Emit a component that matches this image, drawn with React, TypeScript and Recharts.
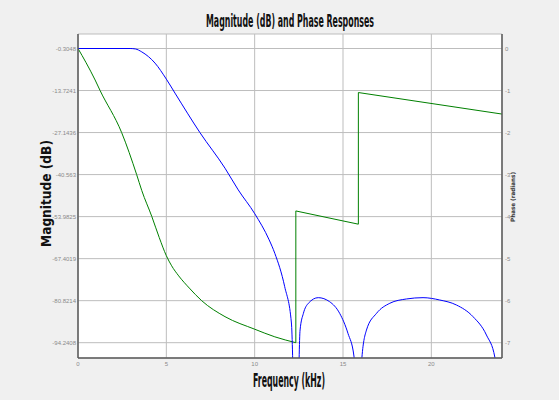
import { LineChart, Line, XAxis, YAxis, CartesianGrid } from 'recharts';

// Magnitude response (blue), kHz vs dB
const magFreq = [0, 2.95, 3.25, 3.61, 4.36, 5.0, 5.49, 6.9, 8.32, 9.07, 10.01, 10.82, 11.14, 11.7, 12.08, 12.35, 12.57, 12.76, 13.04, 13.6, 14.24, 14.81, 15.28, 15.62, 15.87, 16.07, 16.33, 16.9, 17.65, 18.59, 19.53, 20.47, 21.42, 22.36, 23.12, 23.6, 23.7];
const magDb = [-0.3048, -0.3048, -0.45, -1.39, -4.97, -10.08, -14.55, -27.14, -38.52, -45.45, -53.1, -61.4, -65.7, -76.35, -87.95, -140, -90.18, -84.85, -81.65, -79.86, -81.14, -84.85, -91.24, -98.5, -140, -99, -90.18, -84.85, -81.65, -80.28, -79.86, -80.6, -82.2, -85.93, -91.8, -99, -140];

// Phase response (green), kHz vs radians: smooth passband part, then the wrapped jumps
const phaseFreq = [0, 0.46, 0.97, 1.25, 2.47, 3.32, 3.61, 4.18, 4.6, 5.0, 5.3, 5.7, 6.3, 7.0, 8.32, 10.01, 11.14, 12.33];
const phaseRad = [0, -0.34, -0.75, -1.0, -2.0, -3.0, -3.38, -4.0, -4.5, -4.93, -5.17, -5.41, -5.7, -6.0, -6.38, -6.68, -6.86, -7.0];
const jumpFreq = [12.33, 12.33, 15.87, 15.87, 24];
const jumpRad = [-7.0, -3.865, -4.18, -1.048, -1.56];

const freqTicks = [0, 5, 10, 15, 20];
const magTickLabels = ['-0.3048', '-13.7241', '-27.1436', '-40.563', '-53.9825', '-67.4019', '-80.8214', '-94.2408'];
const phaseTicks = [0, -1, -2, -3, -4, -5, -6, -7];

const magData = magFreq.map((f, i) => ({ f, db: magDb[i] }));
const phaseData = phaseFreq.map((f, i) => ({ f, rad: phaseRad[i] }));
const jumpData = jumpFreq.map((f, i) => ({ f, rad: jumpRad[i] }));
const magTicks = magTickLabels.map(Number);

const tickStyle = { fill: '#8a8a8a', fontSize: 6, fontFamily: 'Liberation Sans, Arial, sans-serif' };
const frame = { stroke: '#5a5a5a', strokeWidth: 1.5 };

export default function App() {
    return (
        <div style={{ position: 'absolute', left: 0, top: 0, width: 559, height: 400, background: '#f0f0f0' }}>
            <LineChart width={559} height={400} margin={{ top: 34, right: 0, bottom: 22, left: 8 }}>
                <CartesianGrid yAxisId="mag" fill="#ffffff" stroke="#bdbdbd" strokeWidth={1} />
                <XAxis
                    dataKey="f"
                    type="number"
                    domain={[0, 24]}
                    ticks={freqTicks}
                    interval={0}
                    height={20}
                    tickSize={0}
                    tickMargin={4}
                    tick={tickStyle}
                    axisLine={frame}
                    allowDataOverflow
                />
                <XAxis
                    xAxisId="top"
                    orientation="top"
                    type="number"
                    domain={[0, 24]}
                    height={0}
                    tick={false}
                    tickLine={false}
                    axisLine={frame}
                />
                <YAxis
                    yAxisId="mag"
                    type="number"
                    domain={[-99.126, 4.325]}
                    ticks={magTicks}
                    interval={0}
                    width={70}
                    tickSize={0}
                    tickMargin={2}
                    tick={tickStyle}
                    tickFormatter={(v: number) => magTickLabels[magTicks.indexOf(v)] ?? String(v)}
                    axisLine={frame}
                    allowDataOverflow
                />
                <YAxis
                    yAxisId="phase"
                    orientation="right"
                    type="number"
                    domain={[-7.364, 0.345]}
                    ticks={phaseTicks}
                    interval={0}
                    width={57}
                    tickSize={0}
                    tickMargin={3}
                    tick={tickStyle}
                    axisLine={frame}
                    allowDataOverflow
                />
                <Line
                    yAxisId="phase"
                    data={phaseData}
                    dataKey="rad"
                    type="monotone"
                    stroke="#008000"
                    strokeWidth={1}
                    dot={false}
                    activeDot={false}
                    isAnimationActive={false}
                />
                <Line
                    yAxisId="phase"
                    data={jumpData}
                    dataKey="rad"
                    type="linear"
                    stroke="#008000"
                    strokeWidth={1}
                    dot={false}
                    activeDot={false}
                    isAnimationActive={false}
                />
                <Line
                    yAxisId="mag"
                    data={magData}
                    dataKey="db"
                    type="monotone"
                    stroke="#0000ff"
                    strokeWidth={1}
                    dot={false}
                    activeDot={false}
                    isAnimationActive={false}
                />
            </LineChart>
            <svg width={559} height={400} style={{ position: 'absolute', left: 0, top: 0, pointerEvents: 'none' }}>
                <text x={290} y={27} textAnchor="middle" fontFamily="DejaVu Sans Condensed, sans-serif" fontWeight="bold" fontSize={18} textLength={168} lengthAdjust="spacingAndGlyphs" fill="#111">
                    Magnitude (dB) and Phase Responses
                </text>
                <text x={289} y={387} textAnchor="middle" fontFamily="DejaVu Sans Condensed, sans-serif" fontWeight="bold" fontSize={19} textLength={72} lengthAdjust="spacingAndGlyphs" fill="#111">
                    Frequency (kHz)
                </text>
                <text transform="translate(51,193.5) rotate(-90)" textAnchor="middle" fontFamily="DejaVu Sans, sans-serif" fontWeight="bold" fontSize={14} textLength={107} lengthAdjust="spacingAndGlyphs" fill="#111">
                    Magnitude (dB)
                </text>
                <text transform="translate(515,197) rotate(-90)" textAnchor="middle" fontFamily="DejaVu Sans, sans-serif" fontWeight="bold" fontSize={6} textLength={50} lengthAdjust="spacingAndGlyphs" fill="#333">
                    Phase (radians)
                </text>
            </svg>
        </div>
    );
}
